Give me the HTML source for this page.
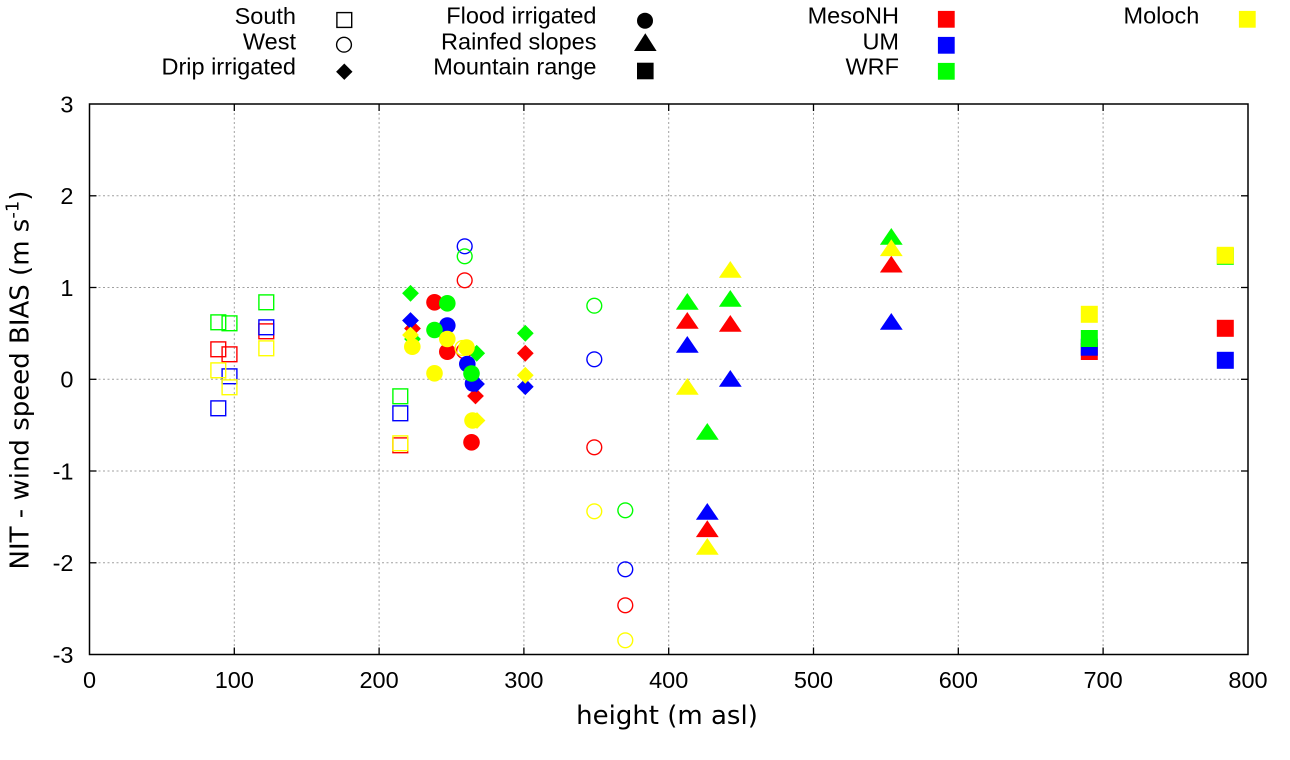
<!DOCTYPE html>
<html>
<head>
<meta charset="utf-8">
<style>
html,body{margin:0;padding:0;background:#fff;}
svg{display:block;}
.t{font-family:"Liberation Sans",Arial,sans-serif;font-size:23.5px;fill:#000;}
.lab{font-family:"DejaVu Sans","Liberation Sans",sans-serif;font-size:26px;fill:#000;}
</style>
</head>
<body>
<svg width="1290" height="760" viewBox="0 0 1290 760" xmlns="http://www.w3.org/2000/svg">
<defs>
  <rect id="osq" x="-7.4" y="-7.4" width="14.8" height="14.8" fill="none" stroke-width="1.4"/>
  <circle id="ocir" r="7.4" fill="none" stroke-width="1.4"/>
  <polygon id="dia" points="0,-8.4 8.4,0 0,8.4 -8.4,0"/>
  <circle id="fcir" r="8.3"/>
  <polygon id="tri" points="0,0 11.4,16.8 -11.4,16.8"/>
  <rect id="fsq" x="-8.5" y="-8.5" width="17" height="17"/>
</defs>
<rect width="1290" height="760" fill="#fff"/>

<!-- grid -->
<g stroke="#a0a0a0" stroke-width="1" stroke-dasharray="2,2.5" fill="none">
  <line x1="234.3" y1="104" x2="234.3" y2="654.5"/>
  <line x1="379.1" y1="104" x2="379.1" y2="654.5"/>
  <line x1="523.9" y1="104" x2="523.9" y2="654.5"/>
  <line x1="668.7" y1="104" x2="668.7" y2="654.5"/>
  <line x1="813.5" y1="104" x2="813.5" y2="654.5"/>
  <line x1="958.3" y1="104" x2="958.3" y2="654.5"/>
  <line x1="1103.1" y1="104" x2="1103.1" y2="654.5"/>
  <line x1="89.5" y1="195.8" x2="1248" y2="195.8"/>
  <line x1="89.5" y1="287.5" x2="1248" y2="287.5"/>
  <line x1="89.5" y1="379.3" x2="1248" y2="379.3"/>
  <line x1="89.5" y1="471" x2="1248" y2="471"/>
  <line x1="89.5" y1="562.8" x2="1248" y2="562.8"/>
</g>

<!-- ticks -->
<g stroke="#000" stroke-width="1.3">
  <line x1="89.5" y1="195.8" x2="96.5" y2="195.8"/><line x1="1241" y1="195.8" x2="1248" y2="195.8"/>
  <line x1="89.5" y1="287.5" x2="96.5" y2="287.5"/><line x1="1241" y1="287.5" x2="1248" y2="287.5"/>
  <line x1="89.5" y1="379.3" x2="96.5" y2="379.3"/><line x1="1241" y1="379.3" x2="1248" y2="379.3"/>
  <line x1="89.5" y1="471" x2="96.5" y2="471"/><line x1="1241" y1="471" x2="1248" y2="471"/>
  <line x1="89.5" y1="562.8" x2="96.5" y2="562.8"/><line x1="1241" y1="562.8" x2="1248" y2="562.8"/>
  <line x1="234.3" y1="654.5" x2="234.3" y2="647.5"/><line x1="234.3" y1="104" x2="234.3" y2="111"/>
  <line x1="379.1" y1="654.5" x2="379.1" y2="647.5"/><line x1="379.1" y1="104" x2="379.1" y2="111"/>
  <line x1="523.9" y1="654.5" x2="523.9" y2="647.5"/><line x1="523.9" y1="104" x2="523.9" y2="111"/>
  <line x1="668.7" y1="654.5" x2="668.7" y2="647.5"/><line x1="668.7" y1="104" x2="668.7" y2="111"/>
  <line x1="813.5" y1="654.5" x2="813.5" y2="647.5"/><line x1="813.5" y1="104" x2="813.5" y2="111"/>
  <line x1="958.3" y1="654.5" x2="958.3" y2="647.5"/><line x1="958.3" y1="104" x2="958.3" y2="111"/>
  <line x1="1103.1" y1="654.5" x2="1103.1" y2="647.5"/><line x1="1103.1" y1="104" x2="1103.1" y2="111"/>
</g>
<rect x="89.5" y="104" width="1158.5" height="550.5" fill="none" stroke="#000" stroke-width="1.5"/>

<!-- tick labels -->
<g class="t" text-anchor="end">
  <text x="73.5" y="112.3">3</text>
  <text x="73.5" y="204.1">2</text>
  <text x="73.5" y="295.8">1</text>
  <text x="73.5" y="387.6">0</text>
  <text x="73.5" y="479.3">-1</text>
  <text x="73.5" y="571.1">-2</text>
  <text x="73.5" y="662.8">-3</text>
</g>
<g class="t" text-anchor="middle">
  <text x="89.5" y="688">0</text>
  <text x="234.3" y="688">100</text>
  <text x="379.1" y="688">200</text>
  <text x="523.9" y="688">300</text>
  <text x="668.7" y="688">400</text>
  <text x="813.5" y="688">500</text>
  <text x="958.3" y="688">600</text>
  <text x="1103.1" y="688">700</text>
  <text x="1248" y="688">800</text>
</g>

<!-- axis labels -->
<text class="lab" x="667" y="724" text-anchor="middle">height (m asl)</text>
<text class="lab" transform="translate(28.5,380) rotate(-90)" text-anchor="middle">NIT - wind speed BIAS (m s<tspan dy="-10" font-size="18">-1</tspan><tspan dy="10">)</tspan></text>

<!-- legend -->
<g class="t" text-anchor="end">
  <text x="296" y="24">South</text>
  <text x="296" y="49.3">West</text>
  <text x="296" y="74.3">Drip irrigated</text>
  <text x="596.5" y="23.5">Flood irrigated</text>
  <text x="596.5" y="49.3">Rainfed slopes</text>
  <text x="596.5" y="74.3">Mountain range</text>
  <text x="899" y="23.5">MesoNH</text>
  <text x="899" y="49.3">UM</text>
  <text x="899" y="74.3">WRF</text>
  <text x="1199.3" y="23.5">Moloch</text>
</g>
<g fill="#000" stroke="#000">
  <use href="#osq" x="344.3" y="20"/>
  <use href="#ocir" x="344" y="44.7" stroke-width="1.2"/>
</g>
<g fill="#000">
  <polygon points="344.3,63.5 352.5,71.7 344.3,79.9 336.1,71.7"/>
  <circle cx="645" cy="20.7" r="8"/>
  <polygon points="645.3,33.3 656.6,51 634,51"/>
  <rect x="637" y="62.7" width="16.6" height="16.6"/>
</g>
<rect x="937.9" y="10.9" width="16.8" height="16.8" fill="#ff0000"/>
<rect x="937.9" y="36.9" width="16.8" height="16.8" fill="#0000ff"/>
<rect x="937.9" y="62.9" width="16.8" height="16.8" fill="#00ff00"/>
<rect x="1238.9" y="10.9" width="16.8" height="16.8" fill="#ffff00"/>

<!-- ===== RED (MesoNH) ===== -->
<g stroke="#ff0000" fill="#ff0000">
  <use href="#osq" x="218.3" y="349.3" fill="none"/>
  <use href="#osq" x="229.5" y="354.3" fill="none"/>
  <use href="#osq" x="266.3" y="331.3" fill="none"/>
  <use href="#osq" x="400.3" y="445.3" fill="none"/>
  <use href="#ocir" x="464.7" y="280.3" fill="none"/>
  <use href="#ocir" x="464" y="351" fill="none"/>
  <use href="#ocir" x="594.3" y="447.3" fill="none"/>
  <use href="#ocir" x="625.3" y="605.3" fill="none"/>
</g>
<g fill="#ff0000">
  <use href="#dia" x="412.5" y="328.5"/>
  <use href="#dia" x="475.5" y="396"/>
  <use href="#dia" x="525.3" y="353.3"/>
  <use href="#fcir" x="434.5" y="302.3"/>
  <use href="#fcir" x="447.3" y="351.7"/>
  <use href="#fcir" x="471.5" y="442.3"/>
  <use href="#tri" x="687.3" y="312"/>
  <use href="#tri" x="730.3" y="315"/>
  <use href="#tri" x="707.3" y="520.3"/>
  <use href="#tri" x="891.3" y="255.7"/>
  <use href="#fsq" x="1089.3" y="351.5"/>
  <use href="#fsq" x="1225.3" y="328.3"/>
</g>

<!-- ===== BLUE (UM) ===== -->
<g stroke="#0000ff" fill="none">
  <use href="#osq" x="229.5" y="376.3"/>
  <use href="#osq" x="218.3" y="408.3"/>
  <use href="#osq" x="266.3" y="327.3"/>
  <use href="#osq" x="400.3" y="413.3"/>
  <use href="#ocir" x="464.7" y="246.3"/>
  <use href="#ocir" x="594.3" y="359.3"/>
  <use href="#ocir" x="625.3" y="569.3"/>
</g>
<g fill="#0000ff">
  <use href="#dia" x="410.5" y="320.5"/>
  <use href="#dia" x="476.5" y="384"/>
  <use href="#dia" x="525.3" y="386.7"/>
  <use href="#fcir" x="447.3" y="325.5"/>
  <use href="#fcir" x="467.3" y="364"/>
  <use href="#fcir" x="473" y="383.5"/>
  <use href="#tri" x="687.3" y="336"/>
  <use href="#tri" x="730.3" y="370"/>
  <use href="#tri" x="707.3" y="503"/>
  <use href="#tri" x="891.3" y="313"/>
  <use href="#fsq" x="1089.3" y="347.2"/>
  <use href="#fsq" x="1225.3" y="360.3"/>
</g>

<!-- ===== GREEN (WRF) ===== -->
<g stroke="#00ff00" fill="none">
  <use href="#osq" x="218.3" y="322.3"/>
  <use href="#osq" x="229.5" y="323.3"/>
  <use href="#osq" x="266.3" y="302.3"/>
  <use href="#osq" x="400.3" y="396.3"/>
  <use href="#ocir" x="464.7" y="256.3"/>
  <use href="#ocir" x="594.3" y="305.7"/>
  <use href="#ocir" x="625.3" y="510.3"/>
</g>
<g fill="#00ff00">
  <use href="#dia" x="410.5" y="293.3"/>
  <use href="#dia" x="412.5" y="339"/>
  <use href="#dia" x="476.7" y="353.3"/>
  <use href="#dia" x="525.3" y="333.3"/>
  <use href="#fcir" x="447.3" y="303.3"/>
  <use href="#fcir" x="434.5" y="330"/>
  <use href="#fcir" x="471.5" y="373.5"/>
  <use href="#tri" x="687.3" y="293"/>
  <use href="#tri" x="730.3" y="290"/>
  <use href="#tri" x="707.3" y="423"/>
  <use href="#tri" x="891.3" y="228"/>
  <use href="#fsq" x="1089.3" y="338.5"/>
  <use href="#fsq" x="1225.3" y="256.3"/>
</g>

<!-- ===== YELLOW (Moloch) ===== -->
<g stroke="#ffff00" fill="none">
  <use href="#osq" x="218.3" y="370.3"/>
  <use href="#osq" x="229.5" y="387.3"/>
  <use href="#osq" x="266.3" y="348.3"/>
  <use href="#osq" x="400.3" y="443.3"/>
  <use href="#ocir" x="462.5" y="348"/>
  <use href="#ocir" x="594.3" y="511.3"/>
  <use href="#ocir" x="625.3" y="640.3"/>
</g>
<g fill="#ffff00">
  <use href="#dia" x="410.5" y="335"/>
  <use href="#dia" x="477" y="420.5"/>
  <use href="#dia" x="525.3" y="375.3"/>
  <use href="#fcir" x="447.3" y="339"/>
  <use href="#fcir" x="434.5" y="373.3"/>
  <use href="#fcir" x="412.3" y="346.7"/>
  <use href="#fcir" x="466.5" y="347.5"/>
  <use href="#fcir" x="472.5" y="420.5"/>
  <use href="#tri" x="687.3" y="378"/>
  <use href="#tri" x="730.3" y="261"/>
  <use href="#tri" x="707.3" y="538"/>
  <use href="#tri" x="891.3" y="239.3"/>
  <use href="#fsq" x="1089.3" y="314.3"/>
  <use href="#fsq" x="1225.3" y="255.3"/>
</g>
</svg>
</body>
</html>
